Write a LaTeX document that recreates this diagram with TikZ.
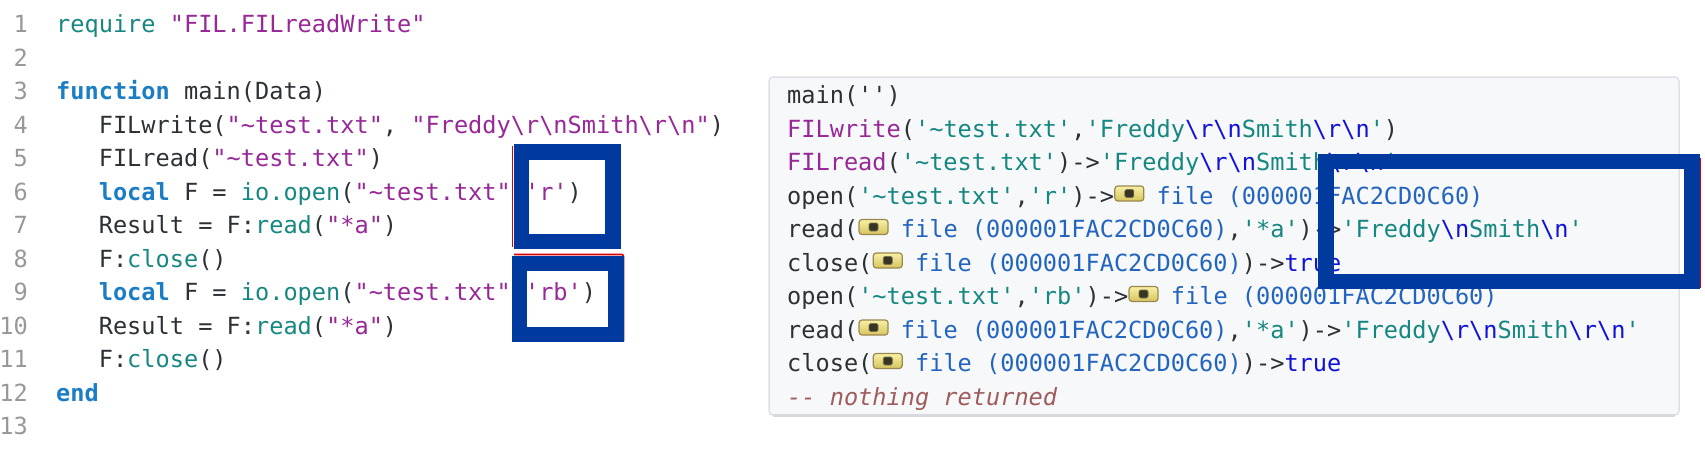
\documentclass[tikz,border=0pt]{standalone}
\usepackage{fontspec}
\setmonofont{DejaVu Sans Mono}[Ligatures=TeXOff]

\definecolor{lnumgray}{RGB}{150,152,156}
\definecolor{codeplain}{RGB}{45,49,54}
\definecolor{codestr}{RGB}{152,40,152}
\definecolor{codefun}{RGB}{22,135,128}
\definecolor{codekw}{RGB}{27,125,196}
\definecolor{codeesc}{RGB}{18,18,215}
\definecolor{codefile}{RGB}{35,100,190}
\definecolor{codecmt}{RGB}{160,92,92}
\definecolor{panelbg}{RGB}{246,248,250}
\definecolor{panelline}{RGB}{222,225,230}
\definecolor{panelshade}{RGB}{214,217,222}
\definecolor{markblue}{RGB}{0,58,158}
\definecolor{markred}{RGB}{220,0,0}

\newcommand{\bsl}{\textbackslash}
\newcommand{\tild}{\textasciitilde}
\newcommand{\cstr}[1]{\textcolor{codestr}{#1}}
\newcommand{\cfun}[1]{\textcolor{codefun}{#1}}
\newcommand{\ckw}[1]{\textcolor{codekw}{\bfseries #1}}
\newcommand{\cesc}[1]{\textcolor{codeesc}{#1}}
\newcommand{\cfile}[1]{\textcolor{codefile}{#1}}
\newcommand{\cteal}[1]{\textcolor{codefun}{#1}}

\tikzset{
  codeline/.style={anchor=base west, inner sep=0pt, text=codeplain,
    font=\ttfamily\fontsize{23.6}{33.5}\selectfont},
  lnum/.style={codeline, anchor=base east, text=lnumgray},
  icobox/.style={draw={rgb,255:red,154;green,136;blue,80}, line width=1.2pt,
    top color={rgb,255:red,248;green,240;blue,165},
    bottom color={rgb,255:red,214;green,196;blue,92},
    rounded corners=3pt, minimum width=29pt, minimum height=15pt, inner sep=0pt},
  icodot/.style={fill={rgb,255:red,55;green,52;blue,36}, draw={rgb,255:red,120;green,112;blue,78},
    line width=0.8pt, rounded corners=1.5pt,
    minimum width=9pt, minimum height=8pt, inner sep=0pt},
  hlframe/.style={draw=markblue, line width=15.5pt},
  hlred/.style={draw=markred, line width=1.6pt, rounded corners=2pt}
}

\begin{document}
\begin{tikzpicture}[x=1pt,y=-1pt]
  \useasboundingbox (0,0) rectangle (1705,450);
  \def\cw{14.21}

  % line numbers
  \foreach \n in {1,...,13}
    \node[lnum] (N\n) at (28,{32.5+(\n-1)*33.5}) {\n};

  % script
  \node[codeline] (L1) at (56,32.5) {\cteal{require} \cstr{"FIL.FILreadWrite"}};
  \node[codeline] (L3) at (56,99.5) {\ckw{function} main(Data)};
  \node[codeline] (L4) at ({56+3*\cw},133) {FILwrite(\cstr{"\tild test.txt"}, \cstr{"Freddy\bsl r\bsl nSmith\bsl r\bsl n"})};
  \node[codeline] (L5) at ({56+3*\cw},166.5) {FILread(\cstr{"\tild test.txt"})};
  \node[codeline] (L6) at ({56+3*\cw},200) {\ckw{local} F = \cfun{io.open}(\cstr{"\tild test.txt"},\cstr{'r'})};
  \node[codeline] (L7) at ({56+3*\cw},233.5) {Result = F:\cfun{read}(\cstr{"*a"})};
  \node[codeline] (L8) at ({56+3*\cw},267) {F:\cfun{close}()};
  \node[codeline] (L9) at ({56+3*\cw},300.5) {\ckw{local} F = \cfun{io.open}(\cstr{"\tild test.txt"},\cstr{'rb'})};
  \node[codeline] (L10) at ({56+3*\cw},334) {Result = F:\cfun{read}(\cstr{"*a"})};
  \node[codeline] (L11) at ({56+3*\cw},367.5) {F:\cfun{close}()};
  \node[codeline] (L12) at (56,401) {\ckw{end}};

  % trace panel
  \draw[panelline, fill=panelbg, line width=1.5pt, rounded corners=4pt] (769,77) rectangle (1679,415);
  \draw[panelshade, line width=3pt] (773,415) -- (1675,415);

  \node[codeline] (P1) at (787,103.5) {main('')};
  \node[codeline] (P2) at (787,137) {\cstr{FILwrite}(\cteal{'\tild test.txt'},\cteal{'Freddy}\cesc{\bsl r\bsl n}\cteal{Smith}\cesc{\bsl r\bsl n}\cteal{'})};
  \node[codeline] (P3) at (787,170.5) {\cstr{FILread}(\cteal{'\tild test.txt'})->\cteal{'Freddy}\cesc{\bsl r\bsl n}\cteal{Smith}\cesc{\bsl r\bsl n}\cteal{'}};
  \node[codeline] (P4) at (787,204) {open(\cteal{'\tild test.txt'},\cteal{'r'})->};
  \node[codeline] (P4b) at ({787+26*\cw},204) {\cfile{file (000001FAC2CD0C60)}};
  \node[codeline] (P5) at (787,237.5) {read(};
  \node[codeline] (P5b) at ({787+8*\cw},237.5) {\cfile{file (000001FAC2CD0C60)},\cteal{'*a'})->\cteal{'Freddy}\cesc{\bsl n}\cteal{Smith}\cesc{\bsl n}\cteal{'}};
  \node[codeline] (P6) at (787,271) {close(};
  \node[codeline] (P6b) at ({787+9*\cw},271) {\cfile{file (000001FAC2CD0C60)})->\cesc{true}};
  \node[codeline] (P7) at (787,304.5) {open(\cteal{'\tild test.txt'},\cteal{'rb'})->};
  \node[codeline] (P7b) at ({787+27*\cw},304.5) {\cfile{file (000001FAC2CD0C60)}};
  \node[codeline] (P8) at (787,338) {read(};
  \node[codeline] (P8b) at ({787+8*\cw},338) {\cfile{file (000001FAC2CD0C60)},\cteal{'*a'})->\cteal{'Freddy}\cesc{\bsl r\bsl n}\cteal{Smith}\cesc{\bsl r\bsl n}\cteal{'}};
  \node[codeline] (P9) at (787,371.5) {close(};
  \node[codeline] (P9b) at ({787+9*\cw},371.5) {\cfile{file (000001FAC2CD0C60)})->\cesc{true}};
  \node[codeline, text=codecmt, font=\ttfamily\itshape\fontsize{23.6}{33.5}\selectfont] (P10) at (787,405) {-- nothing returned};

  % file handle icons
  \foreach \c/\yb/\nm in {23/204/I4, 5/237.5/I5, 6/271/I6, 24/304.5/I7, 5/338/I8, 6/371.5/I9} {
    \node[icobox] (\nm) at ({787+\c*\cw+15.5},{\yb-10.5}) {};
    \node[icodot] (\nm d) at (\nm.center) {};
  }

  % highlight frames
  \draw[hlred] (512.5,146) -- (512.5,247);
  \draw[hlframe] (521.5,152) rectangle (613,241.5);
  \draw[hlred] (514,254.5) -- (623.5,254.5) -- (623.5,341);
  \draw[hlframe] (519.5,263.5) rectangle (616,334.5);
  \draw[hlred] (1700.5,158) -- (1700.5,288);
  \draw[hlframe] (1326,161.5) rectangle (1692,281.5);
\end{tikzpicture}
\end{document}
